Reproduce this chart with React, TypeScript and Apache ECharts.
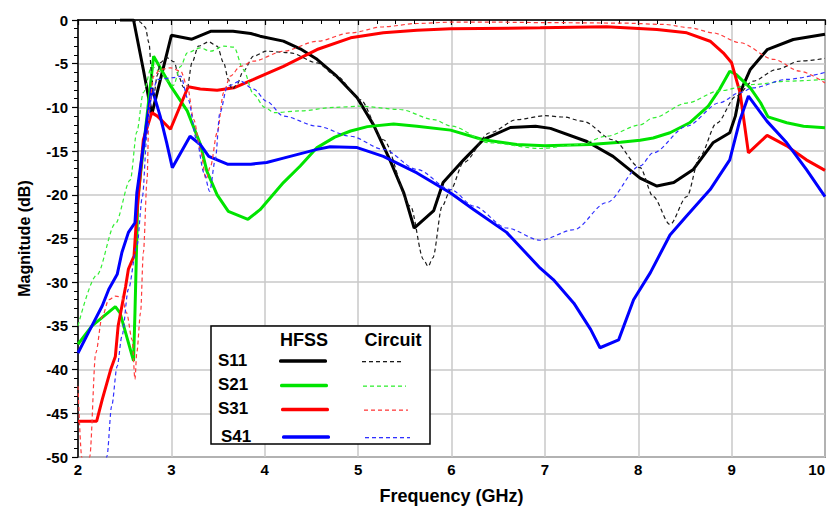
import React, { useEffect, useRef } from "react";
import * as echarts from "echarts";

// Frequency (GHz), Magnitude (dB) pairs
const S11_HFSS: [number, number][] = [
  [2.45, 0], [2.595, 0], [2.7, -5.7], [2.79, -10.8], [3.0, -1.75], [3.22, -2.2], [3.42, -1.3],
  [3.66, -1.28], [3.85, -1.54], [3.95, -1.85], [4.2, -2.42], [4.38, -3.3], [4.56, -4.5],
  [4.77, -6.43], [4.99, -8.9], [5.165, -12.0], [5.34, -16.0], [5.49, -19.8], [5.6, -23.8],
  [5.81, -21.8], [5.91, -18.6], [6.13, -16.0], [6.34, -13.7], [6.63, -12.3], [6.9, -12.15],
  [7.06, -12.4], [7.45, -13.9], [7.73, -15.6], [8.02, -18.1], [8.2, -19.0], [8.38, -18.6],
  [8.59, -17.1], [8.8, -14.05], [8.98, -12.9], [9.04, -11.0], [9.09, -8.3], [9.2, -5.66],
  [9.38, -3.4], [9.66, -2.23], [10, -1.62],
];
const S11_CIRCUIT: [number, number][] = [
  [2.58, 0], [2.66, -0.2], [2.72, -0.8], [2.76, -2.6], [2.79, -6.4], [2.81, -8.7], [2.85, -6.3],
  [2.88, -4.9], [2.95, -4.3], [3.03, -4.8], [3.08, -6.5], [3.13, -7.7], [3.17, -7.76],
  [3.22, -4.9], [3.29, -3.0], [3.4, -2.5], [3.49, -3.0], [3.56, -4.9], [3.61, -6.8],
  [3.65, -7.95], [3.7, -7.4], [3.77, -5.86], [3.88, -4.14], [4.02, -3.57], [4.27, -3.75],
  [4.56, -4.9], [4.77, -6.43], [5.02, -9.1], [5.27, -13.7], [5.56, -21.3], [5.7, -27.4],
  [5.75, -28.2], [5.8, -27.2], [5.9, -21.3], [5.99, -19.4], [6.13, -16.3], [6.41, -12.9],
  [6.7, -11.4], [7.0, -10.95], [7.2, -11.1], [7.41, -11.6], [7.73, -13.7], [8.02, -16.9],
  [8.16, -20.2], [8.34, -23.4], [8.52, -20.2], [8.66, -15.6], [8.84, -11.8], [9.05, -8.7],
  [9.23, -7.0], [9.48, -5.66], [9.73, -4.7], [10, -4.4],
];
const S21_HFSS: [number, number][] = [
  [2.0, -37.1], [2.15, -35.0], [2.4, -32.8], [2.45, -33.5], [2.595, -39.0], [2.61, -33.5],
  [2.64, -20.5], [2.81, -4.14], [2.99, -7.5], [3.17, -10.4], [3.31, -14.2], [3.38, -17.3],
  [3.49, -20.0], [3.61, -21.9], [3.82, -22.8], [3.95, -21.7], [4.2, -18.6], [4.38, -16.7],
  [4.56, -14.6], [4.75, -13.4], [4.92, -12.7], [5.1, -12.2], [5.38, -11.9], [5.63, -12.15],
  [5.99, -12.6], [6.34, -13.7], [6.7, -14.25], [7.0, -14.4], [7.48, -14.25], [7.81, -14.0],
  [8.02, -13.75], [8.16, -13.5], [8.34, -12.9], [8.55, -11.76], [8.75, -9.86], [8.87, -7.95],
  [8.98, -5.86], [9.05, -6.24], [9.2, -7.76], [9.31, -9.47], [9.39, -11.08], [9.59, -11.76],
  [9.77, -12.15], [10, -12.33],
];
const S21_CIRCUIT: [number, number][] = [
  [2.0, -35.0], [2.2, -29.2], [2.4, -23.3], [2.56, -18.3], [2.63, -12.8],
  [2.7, -8.3], [2.79, -5.3], [2.88, -5.9], [2.96, -7.0], [3.02, -7.5], [3.1, -5.3],
  [3.17, -3.75], [3.31, -3.2], [3.42, -3.57], [3.56, -3.0], [3.67, -3.1], [3.77, -5.66],
  [3.88, -8.5], [4.0, -10.0], [4.1, -10.6], [4.38, -10.4], [4.74, -10.0], [5.02, -9.86],
  [5.45, -10.24], [5.81, -11.4], [6.0, -12.15], [6.41, -14.05], [6.95, -14.7], [7.37, -14.25],
  [7.66, -13.3], [8.02, -12.0], [8.16, -11.2], [8.52, -9.5], [8.87, -8.1], [9.23, -7.38],
  [9.59, -7.0], [10, -6.8],
];
const S31_HFSS: [number, number][] = [
  [2.0, -45.9], [2.2, -45.9], [2.26, -43.4], [2.35, -40.0], [2.4, -38.5], [2.43, -35.0],
  [2.51, -30.5], [2.54, -28.5], [2.6, -27.0], [2.63, -22.1], [2.7, -13.7], [2.79, -10.6],
  [2.85, -11.0], [2.99, -12.5], [3.18, -7.64], [3.31, -7.9], [3.49, -8.03], [3.67, -7.76],
  [3.88, -6.8], [4.2, -5.3], [4.56, -3.38], [4.92, -2.04], [5.27, -1.47], [5.63, -1.17],
  [5.99, -1.0], [6.95, -0.9], [7.66, -0.78], [8.2, -1.09], [8.52, -1.47], [8.77, -2.43],
  [8.91, -3.75], [9.0, -4.9], [9.09, -8.3], [9.18, -15.2], [9.38, -13.2], [9.59, -14.4],
  [9.8, -16.0], [10, -17.2],
];
const S31_CIRCUIT: [number, number][] = [
  [2.0, -41.9], [2.04, -50], [2.08, -56], [2.125, -50], [2.19, -38.1], [2.26, -33.9],
  [2.33, -32.0], [2.4, -31.6], [2.47, -31.7], [2.52, -33.5], [2.58, -36.6], [2.61, -41.1],
  [2.63, -38.0], [2.67, -33.5], [2.7, -26.6], [2.74, -18.25], [2.76, -10.2], [2.81, -6.43],
  [2.88, -5.66], [2.99, -5.47], [3.1, -5.86], [3.17, -7.57], [3.24, -11.4], [3.31, -14.8],
  [3.37, -18.2], [3.42, -16.7], [3.49, -12.9], [3.56, -8.3], [3.63, -6.43], [3.74, -5.3],
  [3.88, -4.7], [4.2, -3.57], [4.56, -2.43], [4.92, -1.47], [5.27, -0.78], [5.63, -0.4],
  [5.99, -0.25], [6.5, -0.25], [7.0, -0.3], [7.8, -0.35], [8.27, -0.5], [8.56, -0.9],
  [8.8, -1.47], [9.09, -2.6], [9.45, -4.5], [9.73, -5.86], [10, -7.2],
];
const S41_HFSS: [number, number][] = [
  [2.0, -38.1], [2.11, -35.8], [2.26, -32.7], [2.33, -30.8], [2.42, -29.1], [2.47, -26.6],
  [2.54, -24.3], [2.61, -23.2], [2.63, -19.8], [2.74, -11.4], [2.79, -7.76], [2.88, -11.0],
  [2.95, -14.05], [3.01, -16.9], [3.2, -13.3], [3.31, -14.25], [3.4, -15.6], [3.6, -16.5],
  [3.85, -16.5], [4.02, -16.3], [4.2, -15.8], [4.56, -14.8], [4.7, -14.5], [4.99, -14.6],
  [5.27, -15.6], [5.63, -17.5], [5.99, -19.8], [6.24, -21.7], [6.59, -24.3], [6.95, -28.4],
  [7.09, -29.7], [7.31, -32.4], [7.49, -35.4], [7.59, -37.5], [7.79, -36.6], [7.95, -32.0],
  [8.13, -28.9], [8.34, -24.6], [8.52, -22.4], [8.77, -19.4], [8.98, -16.0], [9.09, -11.4],
  [9.18, -8.7], [9.38, -11.6], [9.59, -14.05], [9.8, -17.1], [10, -20.2],
];
const S41_CIRCUIT: [number, number][] = [
  [2.27, -55], [2.31, -49.9], [2.36, -44.2], [2.42, -39.6], [2.47, -36.2], [2.54, -30.8],
  [2.63, -25.9], [2.69, -20.2], [2.74, -13.0], [2.79, -8.5], [2.85, -6.8], [3.02, -6.6],
  [3.1, -6.43], [3.18, -9.1], [3.27, -13.7], [3.35, -17.5], [3.41, -19.6], [3.47, -16.0],
  [3.52, -10.6], [3.6, -7.57], [3.74, -7.0], [3.88, -7.9], [4.02, -9.3], [4.2, -11.0],
  [4.56, -12.15], [4.92, -13.3], [5.27, -14.8], [5.63, -17.1], [5.99, -19.4], [6.24, -21.3],
  [6.59, -23.8], [6.95, -25.2], [7.31, -24.0], [7.66, -20.9], [8.02, -16.7], [8.16, -15.2],
  [8.52, -12.15], [8.87, -9.47], [9.09, -8.3], [9.23, -7.76], [9.59, -6.8], [10, -6.0],
];

const LEGEND_ROWS = ["S11", "S21", "S31", "S41"];
const X_TITLE = "Frequency (GHz)";
const Y_TITLE = "Magnitude (dB)";

const FONT = '"Liberation Sans", Arial, sans-serif';

const SOLID_COLORS = ["#000000", "#00e400", "#ff0000", "#0000ff"];
const DASH_COLORS = ["#1a1a1a", "#33ee33", "#ff3b3b", "#3030ff"];

function solid(name: string, data: [number, number][], color: string) {
  return {
    name,
    type: "line",
    data,
    symbol: "none",
    smooth: false,
    clip: true,
    z: 2,
    lineStyle: { color, width: 3, type: "solid" },
  };
}
function dashed(name: string, data: [number, number][], color: string) {
  return {
    name,
    type: "line",
    data,
    symbol: "none",
    smooth: 0.3,
    smoothMonotone: "x",
    clip: true,
    z: 3,
    lineStyle: { color, width: 1.2, type: [4, 3] },
  };
}

export default function App() {
  const ref = useRef<HTMLDivElement>(null);
  useEffect(() => {
    document.body.style.margin = "0";
    if (!ref.current) return;
    const chart = echarts.init(ref.current, undefined, { renderer: "svg" });

    const rowYs = [360, 384.5, 408.5, 436];
    const legendEls: any[] = [
      {
        id: "lg-box",
        type: "rect",
        z: 100,
        shape: { x: 211, y: 326, width: 219, height: 118 },
        style: { fill: "#ffffff", stroke: "#000000", lineWidth: 1.5 },
      },
      {
        id: "lg-hfss",
        type: "text",
        z: 101,
        style: {
          text: "HFSS", x: 304, y: 340, align: "center", verticalAlign: "middle",
          font: `bold 18px ${FONT}`, fill: "#000",
        },
      },
      {
        id: "lg-circ",
        type: "text",
        z: 101,
        style: {
          text: "Circuit", x: 393, y: 340, align: "center", verticalAlign: "middle",
          font: `bold 18px ${FONT}`, fill: "#000",
        },
      },
    ];
    LEGEND_ROWS.forEach((lab, i) => {
      const y = rowYs[i];
      legendEls.push({
        id: "lg-t" + i,
        type: "text",
        z: 101,
        style: {
          text: lab, x: i === 3 ? 221 : 218, y, align: "left", verticalAlign: "middle",
          font: `bold 17px ${FONT}`, fill: "#000000",
        },
      });
      legendEls.push({
        id: "lg-s" + i,
        type: "rect",
        z: 101,
        shape: { x: 279 + i, y: y - 0.8, width: 48, height: 3.6, r: 1.5 },
        style: { fill: SOLID_COLORS[i], stroke: null },
      });
      // dashed sample drawn as short dashes
      const x0 = 362 + i;
      const len = 42 + i;
      for (let k = 0; k * 7 < len; k++) {
        const w = Math.min(4, len - k * 7);
        legendEls.push({
          id: `lg-d${i}-${k}`,
          type: "rect",
          z: 101,
          shape: { x: x0 + k * 7, y: y + 1, width: w, height: 1.3 },
          style: { fill: DASH_COLORS[i], stroke: null },
        });
      }
    });

    chart.setOption({
      animation: false,
      backgroundColor: "#ffffff",
      grid: {
        left: 78, right: 2, top: 20, bottom: 49,
        outerBoundsMode: "none",
        containLabel: false,
        show: true, borderColor: "#444", borderWidth: 1.5, backgroundColor: "#fff",
      },
      xAxis: {
        type: "value",
        min: 2, max: 10, interval: 1,
        name: X_TITLE,
        nameLocation: "middle",
        nameGap: 30,
        nameTextStyle: { fontFamily: FONT, fontWeight: "bold", fontSize: 18, color: "#000" },
        axisLine: { show: true, lineStyle: { color: "#000", width: 1.5 } },
        axisTick: { show: true, length: 5, lineStyle: { color: "#000", width: 1.2 } },
        minorTick: { show: true, splitNumber: 5, length: 4, lineStyle: { color: "#000", width: 1 } },
        splitLine: { show: true, lineStyle: { color: "#c8c8c8", width: 1.5 } },
        axisLabel: {
          fontFamily: FONT, fontWeight: "bold", fontSize: 15, color: "#000", margin: 5,
          alignMaxLabel: "right",
        },
      },
      yAxis: {
        type: "value",
        min: -50, max: 0, interval: 5,
        name: Y_TITLE,
        nameLocation: "middle",
        nameGap: 46,
        nameRotate: 90,
        nameTextStyle: { fontFamily: FONT, fontWeight: "bold", fontSize: 16, color: "#000" },
        axisLine: { show: true, lineStyle: { color: "#000", width: 1.5 } },
        axisTick: { show: true, length: 6, lineStyle: { color: "#000", width: 1.2 } },
        minorTick: { show: true, splitNumber: 5, length: 4, lineStyle: { color: "#000", width: 1 } },
        splitLine: { show: true, lineStyle: { color: "#c8c8c8", width: 1.5 } },
        axisLabel: { fontFamily: FONT, fontWeight: "bold", fontSize: 15, color: "#000", margin: 10 },
      },
      series: [
        solid("S11 HFSS", S11_HFSS, SOLID_COLORS[0]),
        solid("S21 HFSS", S21_HFSS, SOLID_COLORS[1]),
        solid("S31 HFSS", S31_HFSS, SOLID_COLORS[2]),
        solid("S41 HFSS", S41_HFSS, SOLID_COLORS[3]),
        dashed("S11 Circuit", S11_CIRCUIT, DASH_COLORS[0]),
        dashed("S21 Circuit", S21_CIRCUIT, DASH_COLORS[1]),
        dashed("S31 Circuit", S31_CIRCUIT, DASH_COLORS[2]),
        dashed("S41 Circuit", S41_CIRCUIT, DASH_COLORS[3]),
      ],
      graphic: legendEls,
    });
    return () => chart.dispose();
  }, []);
  return <div ref={ref} style={{ width: 827, height: 506 }} />;
}
